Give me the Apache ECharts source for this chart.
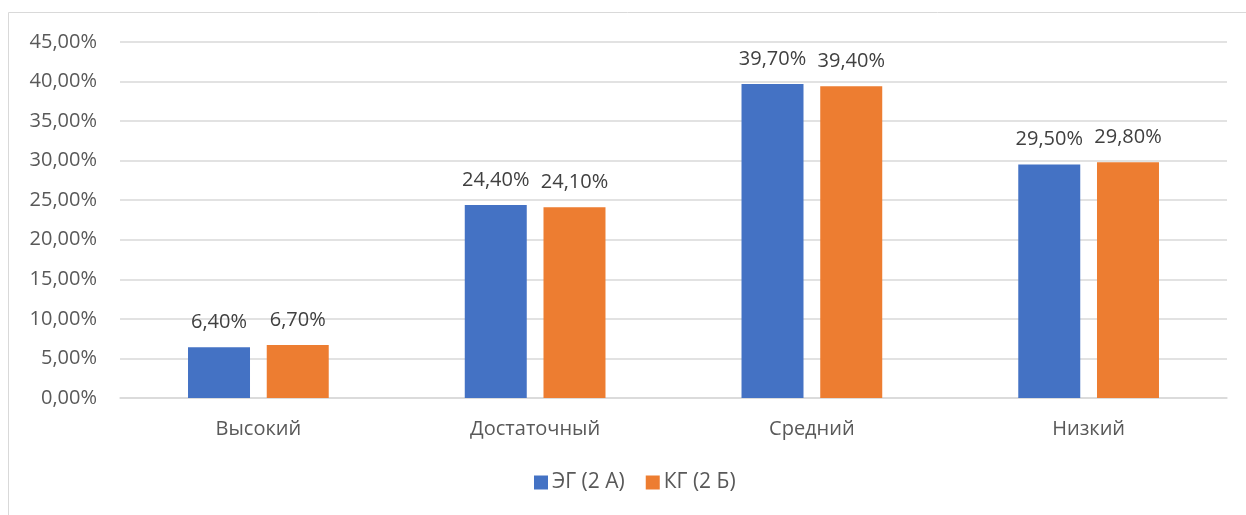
<!DOCTYPE html>
<html><head><meta charset="utf-8">
<script src="https://cdn.jsdelivr.net/npm/echarts@6/dist/echarts.min.js"></script>
<style>html,body{margin:0;padding:0;background:#fff;}#c{width:1246px;height:515px;}</style>
</head><body><div id="c"></div>
<script>
const categories = ['Высокий', 'Достаточный', 'Средний', 'Низкий'];
const seriesNames = ['ЭГ (2 А)', 'КГ (2 Б)'];
const egValues = [6.4, 24.4, 39.7, 29.5];
const kgValues = [6.7, 24.1, 39.4, 29.8];
const yMin = 0, yMax = 45, yStep = 5;

const fmt = v => v.toFixed(2).replace('.', ',') + '%';
const F = '"Open Sans", "Noto Sans", sans-serif';
const chart = echarts.init(document.getElementById('c'), null, {renderer: 'canvas'});
const labelCfg = {
  show: true, position: 'top', distance: 15,
  fontFamily: F, fontSize: 20, color: '#404040',
  formatter: p => fmt(p.value)
};
chart.setOption({
  animation: false,
  graphic: [{type: 'rect', shape: {x: 8.5, y: 12.5, width: 1300, height: 600}, style: {fill: 'none', stroke: '#d9d9d9', lineWidth: 1}, silent: true}],
  grid: {left: 120, right: 19, top: 42, bottom: 117, containLabel: false},
  legend: {
    data: seriesNames, bottom: 17, left: 529, itemWidth: 14, itemHeight: 14, itemGap: 21,
    icon: 'rect', textStyle: {fontFamily: F, fontSize: 21, color: '#595959', padding: [0, 0, 0, -1]}
  },
  xAxis: {
    type: 'category', data: categories,
    axisLine: {lineStyle: {color: '#d9d9d9', width: 1.5}}, axisTick: {show: false},
    axisLabel: {fontFamily: F, fontSize: 20, color: '#595959', margin: 21}
  },
  yAxis: {
    type: 'value', min: yMin, max: yMax, interval: yStep,
    axisLine: {show: false}, axisTick: {show: false},
    splitLine: {lineStyle: {color: '#d9d9d9', width: 1.5}},
    axisLabel: {fontFamily: F, fontSize: 20, color: '#595959', margin: 23, formatter: v => fmt(v)}
  },
  series: [
    {name: seriesNames[0], type: 'bar', data: egValues, barWidth: '22.4%', barGap: '27%', itemStyle: {color: '#4472C4'}, label: labelCfg},
    {name: seriesNames[1], type: 'bar', data: kgValues, barWidth: '22.4%', barGap: '27%', itemStyle: {color: '#ED7D31'}, label: labelCfg}
  ]
});
</script></body></html>
